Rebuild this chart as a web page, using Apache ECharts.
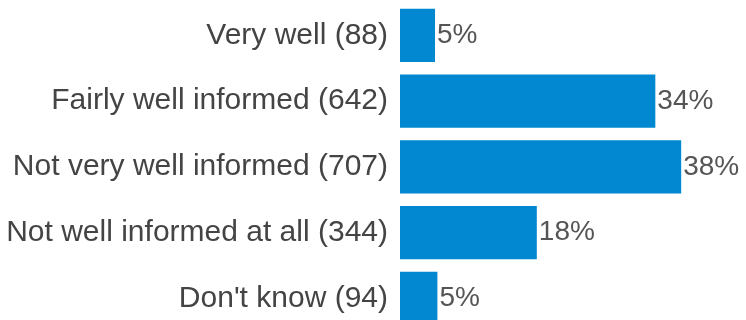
<!DOCTYPE html>
<html>
<head>
<meta charset="utf-8">
<script src="https://cdn.jsdelivr.net/npm/echarts@6/dist/echarts.min.js"></script>
<style>
  html, body { margin: 0; padding: 0; background: #fff; }
  #chart { width: 746px; height: 320px; }
</style>
</head>
<body>
<div id="chart"></div>
<script>
// Survey answers and respondent counts
const categories = [
  'Very well',
  'Fairly well informed',
  'Not very well informed',
  'Not well informed at all',
  "Don't know"
];
const counts = [88, 642, 707, 344, 94];

const total = counts.reduce((a, b) => a + b, 0);
const percents = counts.map(c => c / total * 100);
const labels = categories.map((c, i) => c + ' (' + counts[i] + ')');

const chart = echarts.init(document.getElementById('chart'), null, { renderer: 'canvas' });
chart.setOption({
  animation: false,
  // the last band runs slightly past the bottom edge of the canvas
  grid: {
    left: 400, right: 0, top: 2.6, height: 328.75,
    containLabel: false,
    outerBoundsMode: 'none'
  },
  xAxis: {
    type: 'value',
    min: 0,
    max: 46.4,
    show: false
  },
  yAxis: {
    type: 'category',
    inverse: true,
    data: labels,
    axisLine: { show: false },
    axisTick: { show: false },
    axisLabel: {
      margin: 12,
      fontFamily: 'Liberation Sans, Arial, sans-serif',
      fontSize: 30,
      color: '#444'
    }
  },
  series: [{
    type: 'bar',
    data: percents,
    barCategoryGap: '19%',
    itemStyle: { color: '#0288d1' },
    label: {
      show: true,
      position: 'right',
      distance: 2,
      fontFamily: 'Liberation Sans, Arial, sans-serif',
      fontSize: 28,
      color: '#555',
      formatter: p => Math.round(p.value) + '%'
    }
  }]
});
</script>
</body>
</html>
